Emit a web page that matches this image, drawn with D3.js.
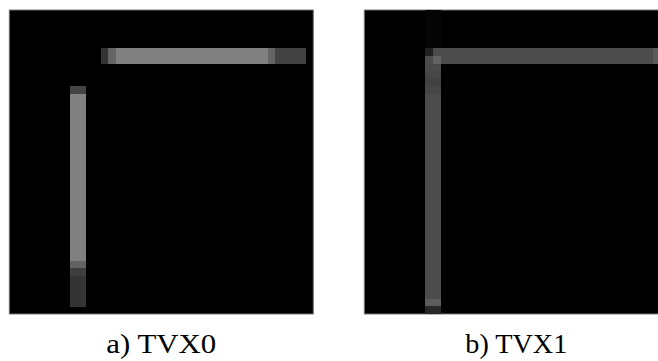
<!DOCTYPE html>
<html>
<head>
<meta charset="utf-8">
<script src="https://cdn.jsdelivr.net/npm/d3@7"></script>
<style>
  html, body { margin: 0; padding: 0; background: #fff; }
  svg { display: block; }
</style>
</head>
<body>
<svg id="chart" width="658" height="361"></svg>
<script>
// ---- data (grey levels 0-255 on a 40x40 grid) ----
const gridSize = 40;
const captions = ["a) TVX0", "b) TVX1"];

// TVX0: horizontal bar on rows 5-6, columns 12..38
const tvx0HRows = [5, 6];
const tvx0HCols = [12,13,14,15,16,17,18,19,20,21,22,23,24,25,26,27,28,29,30,31,32,33,34,35,36,37,38];
const tvx0HVals = [52,100,128,128,128,128,128,128,128,128,128,128,128,128,128,128,128,128,128,128,128,128,100,66,66,66,66];
// TVX0: vertical bar on columns 8-9, rows 10..38
const tvx0VCols = [8, 9];
const tvx0VRows = [10,11,12,13,14,15,16,17,18,19,20,21,22,23,24,25,26,27,28,29,30,31,32,33,34,35,36,37,38];
const tvx0VVals = [68,128,128,128,128,128,128,128,128,128,128,128,128,128,128,128,128,128,128,128,128,128,128,98,62,52,52,52,52];

// TVX1: horizontal bar on rows 5-6, columns 9..38 (right side cropped)
const tvx1HRows = [5, 6];
const tvx1HCols = [9,10,11,12,13,14,15,16,17,18,19,20,21,22,23,24,25,26,27,28,29,30,31,32,33,34,35,36,37,38];
const tvx1HVals = [76,76,76,76,76,76,76,76,76,76,76,76,76,76,76,76,76,76,76,76,76,76,76,76,76,76,76,76,76,90];
// TVX1: vertical bar on columns 8-9, rows 0..39
const tvx1VCols = [8, 9];
const tvx1VRows = [0,1,2,3,4,5,6,7,8,9,10,11,12,13,14,15,16,17,18,19,20,21,22,23,24,25,26,27,28,29,30,31,32,33,34,35,36,37,38,39];
const tvx1VVals = [5,5,5,5,5,32,76,74,70,66,70,76,76,76,76,76,76,76,76,76,76,76,76,76,76,76,76,76,76,76,76,76,76,76,76,76,76,76,92,40];
// TVX1 special cells [row, col, value]
const tvx1Corner = [[5, 8, 32], [5, 9, 76], [6, 9, 100], [6, 8, 76]];

// ---- build cell lists ----
function barCells(rows, cols, vals, horizontal) {
  const out = [];
  if (horizontal) {
    rows.forEach(r => cols.forEach((c, i) => out.push({r, c, v: vals[i]})));
  } else {
    cols.forEach(c => rows.forEach((r, i) => out.push({r, c, v: vals[i]})));
  }
  return out;
}
const panels = [
  { caption: captions[0], textLen: 110,
    cells: barCells(tvx0HRows, tvx0HCols, tvx0HVals, true)
      .concat(barCells(tvx0VRows, tvx0VCols, tvx0VVals, false)) },
  { caption: captions[1], textLen: 102,
    cells: barCells(tvx1HRows, tvx1HCols, tvx1HVals, true)
      .concat(barCells(tvx1VRows, tvx1VCols, tvx1VVals, false))
      .concat(tvx1Corner.map(([r, c, v]) => ({r, c, v}))) }
];

// ---- drawing ----
const svg = d3.select("#chart");
const panelSize = 304;
const panelX = [9.3, 364.3];
const panelY = 10;

const band = d3.scaleBand().domain(d3.range(gridSize)).range([0, panelSize]);
const grey = d3.scaleLinear().domain([0, 255]).range(["#000000", "#ffffff"]);

panels.forEach((p, i) => {
  const g = svg.append("g").attr("transform", `translate(${panelX[i]},${panelY})`);
  g.append("rect")
    .attr("x", 0).attr("y", 0)
    .attr("width", panelSize).attr("height", panelSize)
    .attr("fill", "#000")
    .attr("stroke", "#777").attr("stroke-width", 1);
  g.selectAll("rect.cell")
    .data(p.cells)
    .join("rect")
    .attr("class", "cell")
    .attr("x", d => band(d.c))
    .attr("y", d => band(d.r))
    .attr("width", band.bandwidth() + 0.3)
    .attr("height", band.bandwidth() + 0.3)
    .attr("fill", d => grey(d.v))
    .attr("shape-rendering", "crispEdges");
  svg.append("text")
    .attr("x", panelX[i] + panelSize / 2)
    .attr("y", 353)
    .attr("text-anchor", "middle")
    .attr("font-family", "'Liberation Serif', 'DejaVu Serif', serif")
    .attr("font-size", 27)
    .attr("textLength", p.textLen)
    .attr("lengthAdjust", "spacingAndGlyphs")
    .attr("fill", "#000")
    .text(p.caption);
});
</script>
</body>
</html>
